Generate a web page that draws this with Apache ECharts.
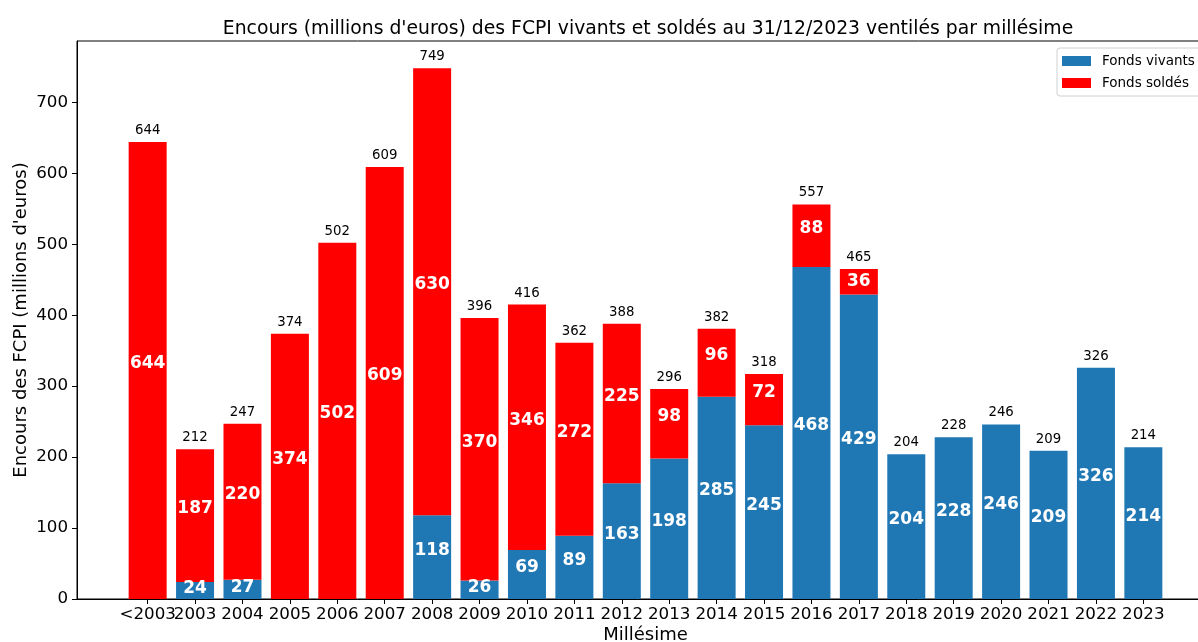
<!DOCTYPE html>
<html>
<head>
<meta charset="utf-8">
<script src="https://cdn.jsdelivr.net/npm/echarts@6/dist/echarts.min.js"></script>
<style>html,body{margin:0;padding:0;background:#fff;}#c{width:1198px;height:642px;}</style>
</head>
<body>
<div id="c"></div>
<script>
const categories = ['<2003','2003','2004','2005','2006','2007','2008','2009','2010','2011','2012','2013','2014','2015','2016','2017','2018','2019','2020','2021','2022','2023'];
const vivants = [0,24,27,0,0,0,118,26,69,89,163,198,285,245,468,429,204,228,246,209,326,214];
const soldes = [644,187,220,374,502,609,630,370,346,272,225,98,96,72,88,36,0,0,0,0,0,0];
const totals = [644,212,247,374,502,609,749,396,416,362,388,296,382,318,557,465,204,228,246,209,326,214];
const yTicks = [0,100,200,300,400,500,600,700];

const FONT = 'DejaVu Sans';
const idx = categories.map((_, i) => i);
// labels split over two axes so that the touching "<2003" / "2003" labels are both drawn
const idxEven = idx.filter(i => i % 2 === 0);
const idxOdd = idx.filter(i => i % 2 === 1);
const chart = echarts.init(document.getElementById('c'), null, {renderer: 'canvas'});

const innerLabel = {
  show: true, position: 'inside', color: '#fff', fontWeight: 'bold',
  fontSize: 17, fontFamily: FONT,
  formatter: p => p.value[0] ? String(p.value[0]) : ''
};
const labelShift = v => (v >= 60 ? -7 : (v >= 30 ? 0 : -2));
const toItems = arr => arr.map((v, i) => ({value: [v, i], label: {offset: [0, labelShift(v)]}}));

const xLabelStyle = {
  margin: 7, color: '#000', fontFamily: FONT, fontSize: 16.7,
  hideOverlap: false, interval: 0, showMinLabel: true, showMaxLabel: true,
  formatter: v => categories[Math.round(v)] ?? ''
};

chart.setOption({
  animation: false,
  backgroundColor: '#fff',
  title: {
    text: "Encours (millions d'euros) des FCPI vivants et soldés au 31/12/2023 ventilés par millésime",
    left: 643, top: 15, textAlign: 'center',
    textStyle: {fontFamily: FONT, fontSize: 18.8, fontWeight: 'normal', color: '#000'}
  },
  legend: {
    data: ['Fonds vivants', 'Fonds soldés'],
    orient: 'vertical', left: 1057, top: 48,
    padding: [6, 8, 6, 5], itemGap: 8, itemWidth: 29, itemHeight: 10,
    icon: 'rect',
    backgroundColor: '#fff', borderColor: '#d0d0d0', borderWidth: 1, borderRadius: 3,
    textStyle: {fontFamily: FONT, fontSize: 13.5, color: '#000', padding: [0, 0, 0, 6]}
  },
  grid: {
    left: 77, top: 41, width: 1137, height: 558,
    outerBoundsMode: 'none', containLabel: false,
    show: true, borderColor: '#000', borderWidth: 1, backgroundColor: 'transparent'
  },
  xAxis: [
    {
      type: 'value', min: -1.49, max: 22.49, position: 'bottom', offset: 0,
      name: 'Millésime', nameLocation: 'middle', nameGap: 27, nameMoveOverlap: false,
      nameTextStyle: {fontFamily: FONT, fontSize: 18, color: '#000', verticalAlign: 'top'},
      splitLine: {show: false},
      axisLine: {show: true, onZero: false, lineStyle: {color: '#000', width: 1}},
      axisTick: {show: true, length: 5, lineStyle: {color: '#000'}, customValues: idx},
      axisLabel: Object.assign({customValues: idxEven}, xLabelStyle)
    },
    {
      type: 'value', min: -1.49, max: 22.49, position: 'bottom', offset: 0,
      splitLine: {show: false},
      axisLine: {show: false, onZero: false},
      axisTick: {show: false},
      axisLabel: Object.assign({customValues: idxOdd}, xLabelStyle)
    }
  ],
  yAxis: {
    type: 'value', min: 0, max: 786.45,
    name: "Encours des FCPI (millions d'euros)", nameLocation: 'middle', nameGap: 47, nameMoveOverlap: false,
    nameTextStyle: {fontFamily: FONT, fontSize: 18, color: '#000'},
    splitLine: {show: false},
    axisLine: {show: true, onZero: false, lineStyle: {color: '#000', width: 1}},
    axisTick: {show: true, length: 5, lineStyle: {color: '#000'}, customValues: yTicks},
    axisLabel: {customValues: yTicks, margin: 9, color: '#000', fontFamily: FONT, fontSize: 16.7, showMinLabel: true}
  },
  series: [
    {
      name: 'Fonds vivants', type: 'bar', stack: 't', barWidth: 38, xAxisIndex: 0,
      encode: {x: 1, y: 0},
      itemStyle: {color: '#1f77b4'},
      label: innerLabel,
      data: toItems(vivants)
    },
    {
      name: 'Fonds soldés', type: 'bar', stack: 't', barWidth: 38, xAxisIndex: 0,
      encode: {x: 1, y: 0},
      itemStyle: {color: '#ff0000'},
      label: innerLabel,
      data: toItems(soldes)
    },
    {
      name: 'total', type: 'bar', stack: 't', barWidth: 38, xAxisIndex: 0,
      encode: {x: 1, y: 0},
      itemStyle: {color: 'transparent'},
      label: {
        show: true, position: 'top', distance: 5, color: '#000',
        fontFamily: FONT, fontSize: 13.3, formatter: p => String(totals[p.dataIndex])
      },
      data: totals.map((v, i) => [0, i])
    }
  ]
});
</script>
</body>
</html>
